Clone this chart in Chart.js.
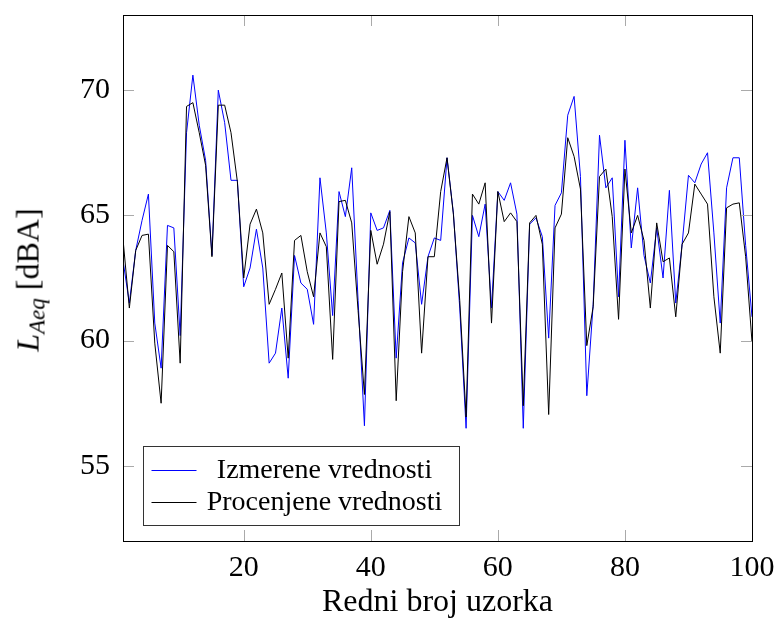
<!DOCTYPE html>
<html>
<head>
<meta charset="utf-8">
<title>LAeq</title>
<script src="https://cdn.jsdelivr.net/npm/chart.js@4.4.0/dist/chart.umd.min.js"></script>
<style>
  html, body { margin: 0; padding: 0; background: #fff; }
  #wrap { position: relative; width: 777px; height: 619px; }
  #yTitle {
    position: absolute;
    left: 30px;
    top: 280px;
    transform: translate(-50%, -50%) rotate(-90deg);
    font-family: "Liberation Serif", serif;
    font-size: 32px;
    white-space: nowrap;
    line-height: 1;
  }
  #yTitle sub { font-size: 23px; vertical-align: -6px; }
</style>
</head>
<body>
<div id="wrap">
  <canvas id="chart" width="777" height="619"></canvas>
  <div id="yTitle"><i>L</i><sub><i>Aeq</i></sub> [dBA]</div>
</div>
<script>
// sample numbers 1..100
const sampleNo = Array.from({ length: 100 }, (_, i) => i + 1);

// measured levels, dBA
const measured = [
  63.2, 61.5, 63.6, 64.8, 65.85, 60.7, 58.9, 64.6, 64.5, 60.2,
  68.3, 70.6, 68.6, 67.2, 63.4, 70.0, 68.7, 66.4, 66.4, 62.15,
  62.9, 64.45, 62.9, 59.1, 59.5, 61.3, 58.5, 63.4, 62.3, 62.05,
  60.65, 66.5, 64.3, 61.0, 65.95, 64.95, 66.9, 61.6, 56.6, 65.1,
  64.4, 64.5, 65.2, 59.3, 63.1, 64.1, 63.9, 61.45, 63.35, 64.1,
  64.0, 67.3, 65.1, 61.3, 56.5, 65.0, 64.15, 65.45, 61.3, 65.95,
  65.6, 66.3, 65.05, 56.5, 64.65, 64.9, 64.15, 60.1, 65.4, 65.9,
  69.0, 69.75, 66.55, 57.8, 61.45, 68.2, 66.1, 66.5, 61.75, 68.0,
  63.7, 66.1, 63.4, 62.3, 64.5, 62.5, 66.0, 61.5, 63.85, 66.6,
  66.3, 67.05, 67.5, 64.3, 60.7, 66.1, 67.3, 67.3, 63.8, 60.95
];

// model estimates, dBA
const estimated = [
  64.05, 61.3, 63.6, 64.2, 64.25, 59.9, 57.5, 63.8, 63.55, 59.1,
  69.35, 69.5, 68.3, 67.0, 63.35, 69.4, 69.4, 68.3, 66.35, 62.5,
  64.65, 65.25, 64.3, 61.45, 62.05, 62.7, 59.3, 64.0, 64.2, 62.75,
  61.75, 64.3, 63.75, 59.25, 65.55, 65.6, 64.7, 61.2, 57.85, 64.4,
  63.05, 63.85, 65.15, 57.6, 62.75, 64.95, 64.3, 59.5, 63.35, 63.35,
  65.95, 67.3, 65.05, 61.6, 56.95, 65.85, 65.45, 66.3, 60.7, 65.95,
  64.75, 65.1, 64.75, 57.4, 64.7, 65.0, 63.85, 57.05, 64.5, 65.05,
  68.1, 67.35, 66.05, 59.8, 61.35, 66.55, 66.85, 64.95, 60.85, 66.85,
  64.3, 65.0, 64.0, 61.3, 64.7, 63.15, 63.3, 60.95, 63.85, 64.3,
  66.25, 65.85, 65.45, 61.75, 59.5, 65.3, 65.45, 65.5, 63.35, 59.95
];

const seriesNames = ["Izmerene vrednosti", "Procenjene vrednosti"];
const seriesColors = ["#0000ff", "#000000"];
const xTicks = [20, 40, 60, 80, 100];
const yTicks = [55, 60, 65, 70];

const serif = "'Liberation Serif', serif";

// box frame, inner tick marks and the boxed legend in the lower left
const framePlugin = {
  id: "frame",
  afterDatasetsDraw(chart) {
    const { ctx, chartArea: a, scales: { x, y } } = chart;
    ctx.save();
    ctx.lineWidth = 1;
    ctx.strokeStyle = "#aaaaaa";
    ctx.beginPath();
    x.ticks.forEach((t) => {
      const px = Math.round(x.getPixelForValue(t.value)) + 0.5;
      ctx.moveTo(px, a.bottom);
      ctx.lineTo(px, a.bottom - 11);
      ctx.moveTo(px, a.top);
      ctx.lineTo(px, a.top + 11);
    });
    y.ticks.forEach((t) => {
      const py = Math.round(y.getPixelForValue(t.value)) + 0.5;
      ctx.moveTo(a.left, py);
      ctx.lineTo(a.left + 11, py);
      ctx.moveTo(a.right, py);
      ctx.lineTo(a.right - 11, py);
    });
    ctx.stroke();

    ctx.strokeStyle = "#000";
    ctx.strokeRect(a.left + 0.5, a.top + 0.5, a.right - a.left, a.bottom - a.top);

    // legend
    const bx = a.left + 20.5, by = a.bottom - 94.5, bw = 316, bh = 79;
    ctx.fillStyle = "#fff";
    ctx.fillRect(bx, by, bw, bh);
    ctx.strokeStyle = "#333";
    ctx.strokeRect(bx, by, bw, bh);
    ctx.font = "28px " + serif;
    ctx.textAlign = "center";
    ctx.textBaseline = "alphabetic";
    chart.data.datasets.forEach((ds, i) => {
      const rowY = by + 23 + i * 32;
      ctx.strokeStyle = ds.borderColor;
      ctx.beginPath();
      ctx.moveTo(bx + 8, Math.round(rowY) + 0.5);
      ctx.lineTo(bx + 53, Math.round(rowY) + 0.5);
      ctx.stroke();
      ctx.fillStyle = "#000";
      ctx.fillText(ds.label, bx + 181, rowY + 8);
    });
    ctx.restore();
  }
};

new Chart(document.getElementById("chart"), {
  type: "line",
  data: {
    datasets: [
      {
        label: seriesNames[0],
        data: sampleNo.map((n, i) => ({ x: n, y: measured[i] })),
        borderColor: seriesColors[0],
        borderWidth: 1,
        pointRadius: 0,
        tension: 0,
        order: 1
      },
      {
        label: seriesNames[1],
        data: sampleNo.map((n, i) => ({ x: n, y: estimated[i] })),
        borderColor: seriesColors[1],
        borderWidth: 1,
        pointRadius: 0,
        tension: 0,
        order: 0
      }
    ]
  },
  options: {
    responsive: false,
    animation: false,
    devicePixelRatio: 1,
    layout: { padding: { left: 0, right: 25, top: 15, bottom: 0 } },
    plugins: {
      legend: { display: false },
      tooltip: { enabled: false }
    },
    scales: {
      x: {
        type: "linear",
        min: 1,
        max: 100,
        afterBuildTicks: (s) => { s.ticks = xTicks.map((v) => ({ value: v })); },
        afterFit: (s) => {
          s.height = 78;
          s.paddingLeft = 0;
          s.paddingRight = 0;
        },
        grid: { display: false, drawTicks: false },
        border: { display: false },
        ticks: {
          color: "#000",
          padding: 9,
          maxRotation: 0,
          font: { family: serif, size: 30 }
        },
        title: {
          display: true,
          text: "Redni broj uzorka",
          color: "#000",
          padding: { top: 0, bottom: 0 },
          font: { family: serif, size: 32, lineHeight: 1 }
        }
      },
      y: {
        min: 52,
        max: 73,
        afterBuildTicks: (s) => { s.ticks = yTicks.map((v) => ({ value: v })); },
        afterFit: (s) => {
          s.width = 123;
          s.paddingTop = 0;
          s.paddingBottom = 0;
        },
        grid: { display: false, drawTicks: false },
        border: { display: false },
        ticks: {
          color: "#000",
          padding: 13,
          font: { family: serif, size: 30 }
        }
      }
    }
  },
  plugins: [framePlugin]
});
</script>
</body>
</html>
